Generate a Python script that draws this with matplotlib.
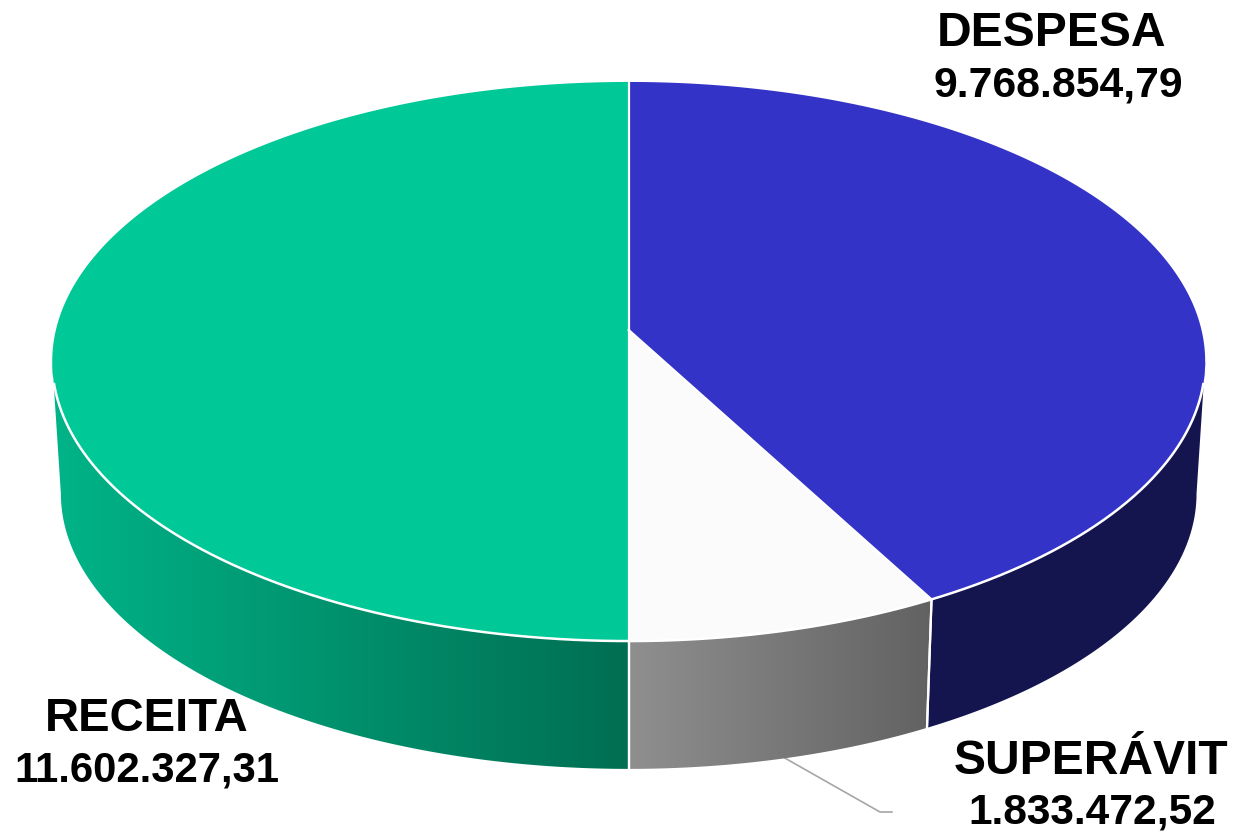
import numpy as np
import matplotlib
matplotlib.use("Agg")
import matplotlib.pyplot as plt
from matplotlib.patches import Polygon
from matplotlib.colors import LinearSegmentedColormap

labels = ["DESPESA", "SUPERÁVIT", "RECEITA"]
values = [9768854.79, 1833472.52, 11602327.31]
value_text = ["9.768.854,79", "1.833.472,52", "11.602.327,31"]
top_colors = ["#3333C8", "#FBFBFB", "#00C897"]
wall_colors = [("#14154F", "#14154F"), ("#8F8F8F", "#626262"), ("#00B488", "#006E52")]
label_sizes = [34.6, 34.6, 34.0]
value_sizes = [30.8, 30.6, 30.2]

W, H = 1237, 834
CX, Y0, R, HT, K = 628.7, 330, 572.8, 276, 0.1127
S, Y0B = 0.985, 462.5


def top(t):
    w = 1 + K * np.cos(t)
    return CX + R * np.sin(t) / w, Y0 - HT * np.cos(t) / w


def bot(t):
    w = 1 + K * np.cos(t)
    return CX + S * R * np.sin(t) / w, Y0B - S * HT * np.cos(t) / w


fig = plt.figure(figsize=(W / 100, H / 100), dpi=100)
ax = fig.add_axes([0, 0, 1, 1])

cum = np.concatenate([[0], np.cumsum(values)]) / np.sum(values) * 2 * np.pi
T_LEFT = np.pi + np.arccos(K)   # silhouette angle on the left
T_RIGHT = np.pi - np.arccos(K)  # silhouette angle on the right

# side walls
for i in range(3):
    a, b = cum[i], cum[i + 1]
    lo, hi = max(a, T_RIGHT), min(b, T_LEFT)
    if lo >= hi:
        continue
    t = np.linspace(lo, hi, 200)
    xt, yt = top(t)
    xb, yb = bot(t)
    verts = np.column_stack([np.r_[xt, xb[::-1]], np.r_[yt, yb[::-1]]])
    cmap = LinearSegmentedColormap.from_list("w", wall_colors[i])
    x0, x1 = verts[:, 0].min(), verts[:, 0].max()
    im = ax.imshow(np.linspace(0, 1, 256)[None, :], cmap=cmap, aspect="auto",
                   extent=(x0, x1, verts[:, 1].max(), verts[:, 1].min()), zorder=2)
    poly = Polygon(verts, closed=True, fc="none", ec="none", transform=ax.transData)
    ax.add_patch(poly)
    im.set_clip_path(poly)
    for tv in (a, b):
        if lo <= tv <= hi:
            xa, ya = top(tv)
            xc, yc = bot(tv)
            ax.plot([xa, xc], [ya, yc], color="white", lw=1.6, zorder=4)

ax.set_xlim(0, W)
ax.set_ylim(H, 0)
ax.axis("off")

# top faces
for i in range(3):
    t = np.linspace(cum[i], cum[i + 1], 300)
    xt, yt = top(t)
    verts = np.column_stack([np.r_[CX, xt], np.r_[Y0, yt]])
    ax.add_patch(Polygon(verts, closed=True, fc=top_colors[i], ec="none", zorder=5))
    xa, ya = top(cum[i])
    ax.plot([CX, xa], [Y0, ya], color="white", lw=1.6, zorder=6)

# white rim over the walls, stopping just inside the silhouette
t = np.linspace(T_RIGHT + 0.08, T_LEFT - 0.08, 600)
ax.plot(*top(t), color="white", lw=1.8, zorder=6)

# leader line for the small slice
ax.plot([783, 880, 892], [757, 812, 812], color="#A6A6A6", lw=1.2, zorder=1)

font = dict(family="Liberation Sans", weight="bold", color="black", ha="center", va="center", zorder=7)
pos = {0: ((1052, 33), (1058, 85)), 1: ((1091, 761), (1092, 812)), 2: ((147, 719), (146.5, 771))}
for i in range(3):
    ax.text(*pos[i][0], labels[i], fontsize=label_sizes[i], **font)
    ax.text(*pos[i][1], value_text[i], fontsize=value_sizes[i], **font)

fig.savefig("out.png", dpi=100)
